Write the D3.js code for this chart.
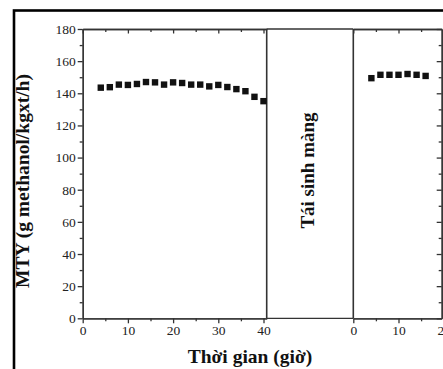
<!DOCTYPE html>
<html>
<head>
<meta charset="utf-8">
<script src="https://cdn.jsdelivr.net/npm/d3@7"></script>
<style>
  html, body { margin: 0; padding: 0; background: #fff; }
  svg { display: block; }
</style>
</head>
<body>
<svg id="chart" width="443" height="369"></svg>
<script>
// Methanol yield before and after membrane regeneration
const hoursBefore = [4, 6, 8, 10, 12, 14, 16, 18, 20, 22, 24, 26, 28, 30, 32, 34, 36, 38, 40];
const mtyBefore   = [143.5, 143.8, 145.4, 145.2, 145.8, 147.0, 146.8, 145.4, 146.8, 146.4, 145.4, 145.4, 144.3, 145.2, 143.9, 142.6, 141.3, 137.8, 135.1];
const hoursAfter  = [4, 6, 8, 10, 12, 14, 16];
const mtyAfter    = [149.4, 151.5, 151.5, 151.5, 152.0, 151.5, 150.8];

const yTicksMajor = [0, 20, 40, 60, 80, 100, 120, 140, 160, 180];
const yTicksMinor = [10, 30, 50, 70, 90, 110, 130, 150, 170];
const xTicksBeforeMajor = [0, 10, 20, 30, 40];
const xTicksBeforeMinor = [5, 15, 25, 35];
const xTicksAfterMajor = [0, 10, 20];
const xTicksAfterMinor = [5, 15];

const yTitle = "MTY (g methanol/kgxt/h)";
const xTitle = "Thời gian (giờ)";
const gapLabel = "Tái sinh màng";

const svg = d3.select("#chart");
const serif = "'Liberation Serif', 'Times New Roman', serif";
const axisColor = "#333";

const plotTop = 29, plotBottom = 318.3;
const leftX0 = 82.7, leftX1 = 266.7;
const rightX0 = 353.3, rightX1 = 441.7;
const pxPerHour = 4.52;

const y = d3.scaleLinear().domain([0, 180]).range([plotBottom, plotTop]);
const xBefore = d3.scaleLinear().domain([0, (leftX1 - leftX0) / pxPerHour]).range([leftX0, leftX1]);
const xAfter  = d3.scaleLinear().domain([0, (rightX1 - rightX0) / pxPerHour]).range([rightX0, rightX1]);
const xGap    = d3.scaleLinear().domain([0, 1]).range([leftX1, rightX0]);

// outer frame
svg.append("rect")
  .attr("x", 14).attr("y", 10.5)
  .attr("width", 520).attr("height", 420)
  .attr("fill", "none").attr("stroke", "#000").attr("stroke-width", 2.6);

function styleAxis(g) {
  g.selectAll("path.domain").attr("stroke", axisColor).attr("stroke-width", 1.3);
  g.selectAll(".tick line").attr("stroke", axisColor).attr("stroke-width", 1.3);
  g.selectAll(".tick text")
    .attr("font-family", serif).attr("font-size", 13.5).attr("fill", "#222");
  return g;
}

// draws a minor + major tick layer of one axis; sizes may be negative for inward ticks
function axisPair(gen, scale, major, minor, transform, labels, majorSize, minorSize) {
  styleAxis(svg.append("g").attr("transform", transform)
    .call(gen(scale).tickValues(minor).tickSize(minorSize).tickSizeOuter(0).tickFormat("")));
  return styleAxis(svg.append("g").attr("transform", transform)
    .call(gen(scale).tickValues(major).tickSize(majorSize).tickSizeOuter(0).tickPadding(2)
      .tickFormat(labels ? d3.format("d") : "")));
}

// left y axis (outward ticks, labelled)
axisPair(d3.axisLeft, y, yTicksMajor, yTicksMinor, `translate(${leftX0},0)`, true, 5, 3);
// right y axis (inward ticks)
axisPair(d3.axisRight, y, yTicksMajor, yTicksMinor, `translate(${rightX1},0)`, false, -5, -3);

// bottom axes (outward ticks, labelled)
axisPair(d3.axisBottom, xBefore, xTicksBeforeMajor, xTicksBeforeMinor, `translate(0,${plotBottom})`, true, 5, 3);
axisPair(d3.axisBottom, xAfter, xTicksAfterMajor, xTicksAfterMinor, `translate(0,${plotBottom})`, true, 5, 3);

// top axes (inward ticks)
axisPair(d3.axisTop, xBefore, xTicksBeforeMajor, xTicksBeforeMinor, `translate(0,${plotTop})`, false, -4.5, -3);
axisPair(d3.axisTop, xAfter, xTicksAfterMajor.filter(v => v < 19), xTicksAfterMinor, `translate(0,${plotTop})`, false, -4.5, -3);

// regeneration gap: top and bottom borders plus separators
[plotTop, plotBottom].forEach(yy => {
  svg.append("line")
    .attr("x1", xGap(0)).attr("x2", xGap(1))
    .attr("y1", yy).attr("y2", yy)
    .attr("stroke", axisColor).attr("stroke-width", 1.3);
});
[xGap(0), xGap(1)].forEach(xx => {
  svg.append("line")
    .attr("x1", xx).attr("x2", xx)
    .attr("y1", plotTop).attr("y2", plotBottom)
    .attr("stroke", axisColor).attr("stroke-width", 1.6);
});

svg.append("text")
  .attr("transform", `translate(${xGap(0.5) + 4},170.5) rotate(-90)`)
  .attr("text-anchor", "middle")
  .attr("font-family", serif).attr("font-weight", "bold").attr("font-size", 19)
  .attr("fill", "#111")
  .text(gapLabel);

// markers
const size = 6.4;
function drawPoints(xs, ys, sc) {
  svg.append("g").selectAll("rect")
    .data(xs.map((d, i) => [d, ys[i]]))
    .join("rect")
    .attr("x", d => sc(d[0]) - size / 2)
    .attr("y", d => y(d[1]) - size / 2)
    .attr("width", size).attr("height", size)
    .attr("fill", "#111");
}
drawPoints(hoursBefore, mtyBefore, xBefore);
drawPoints(hoursAfter, mtyAfter, xAfter);

// axis titles
svg.append("text")
  .attr("transform", `translate(29,181) rotate(-90)`)
  .attr("text-anchor", "middle")
  .attr("font-family", serif).attr("font-weight", "bold").attr("font-size", 19.5)
  .attr("fill", "#111")
  .text(yTitle);

svg.append("text")
  .attr("x", 250).attr("y", 363)
  .attr("text-anchor", "middle")
  .attr("font-family", serif).attr("font-weight", "bold").attr("font-size", 19.5)
  .attr("fill", "#111")
  .text(xTitle);
</script>
</body>
</html>
